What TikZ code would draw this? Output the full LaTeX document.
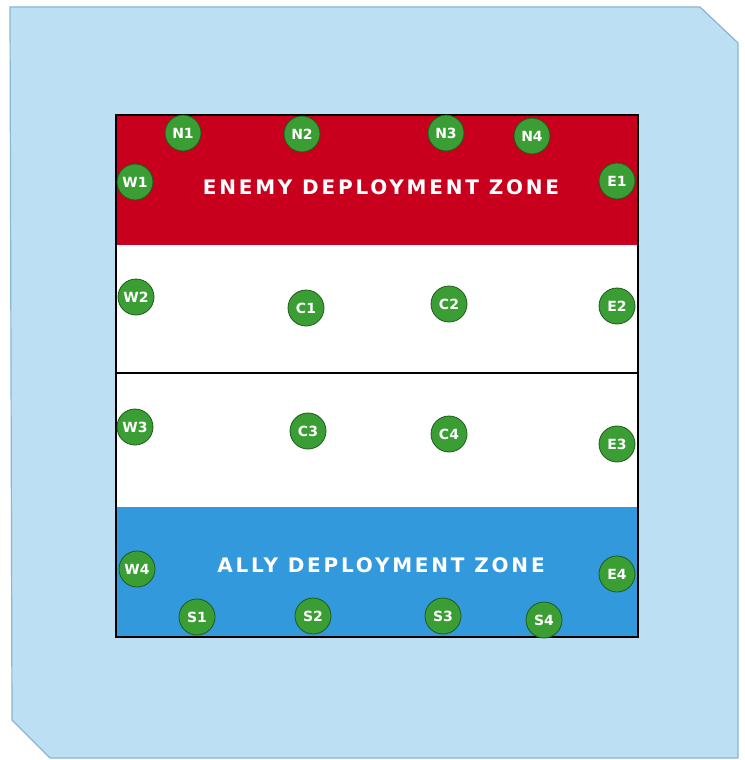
\documentclass[tikz,border=0pt]{standalone}
\usepackage{fontspec}
\setmainfont{DejaVu Sans}
\begin{document}
\begin{tikzpicture}[x=1pt,y=-1pt,
  spot/.style={circle,fill=spotgreen,draw=spotdark,line width=0.8pt,minimum size=36pt,inner sep=0pt,text=white,font=\fontsize{14}{14}\selectfont\bfseries},
  zonelabel/.style={text=white,font=\fontsize{20}{20}\selectfont\bfseries\addfontfeatures{LetterSpace=14}}]
\definecolor{bgblue}{HTML}{BDDFF4}
\definecolor{bgedge}{HTML}{88B6CE}
\definecolor{enemyred}{HTML}{C8001E}
\definecolor{allyblue}{HTML}{3399DD}
\definecolor{spotgreen}{HTML}{3A9E35}
\definecolor{spotdark}{HTML}{1E5A1A}
\useasboundingbox (0,0) rectangle (744,760);
\fill[white] (0,0) rectangle (744,760);
\draw[bgedge,fill=bgblue,line width=1.2pt] (10,7) -- (700,7) -- (738,43) -- (738,758) -- (50,758) -- (12,720) -- cycle;
\fill[enemyred] (116,115) rectangle (638,245);
\fill[white] (116,245) rectangle (638,507);
\fill[allyblue] (116,507) rectangle (638,637);
\draw[black,line width=1.2pt] (116,373) -- (638,373);
\draw[black,line width=1.5pt] (116,115) rectangle (638,637);
\node[zonelabel] (enemy) at (381,187) {ENEMY DEPLOYMENT ZONE};
\node[zonelabel] (ally) at (381,565) {ALLY DEPLOYMENT ZONE};
\node[spot] (N1) at (183,133) {N1};
\node[spot] (N2) at (302,134) {N2};
\node[spot] (N3) at (446,133) {N3};
\node[spot] (N4) at (532,136) {N4};
\node[spot] (W1) at (135,182) {W1};
\node[spot] (E1) at (617,181) {E1};
\node[spot] (W2) at (136,297) {W2};
\node[spot] (C1) at (306,308) {C1};
\node[spot] (C2) at (449,304) {C2};
\node[spot] (E2) at (617,306) {E2};
\node[spot] (W3) at (135,427) {W3};
\node[spot] (C3) at (308,431) {C3};
\node[spot] (C4) at (449,434) {C4};
\node[spot] (E3) at (617,444) {E3};
\node[spot] (W4) at (137,569) {W4};
\node[spot] (E4) at (617,574) {E4};
\node[spot] (S1) at (197,617) {S1};
\node[spot] (S2) at (313,616) {S2};
\node[spot] (S3) at (443,616) {S3};
\node[spot] (S4) at (544,620) {S4};
\end{tikzpicture}
\end{document}
